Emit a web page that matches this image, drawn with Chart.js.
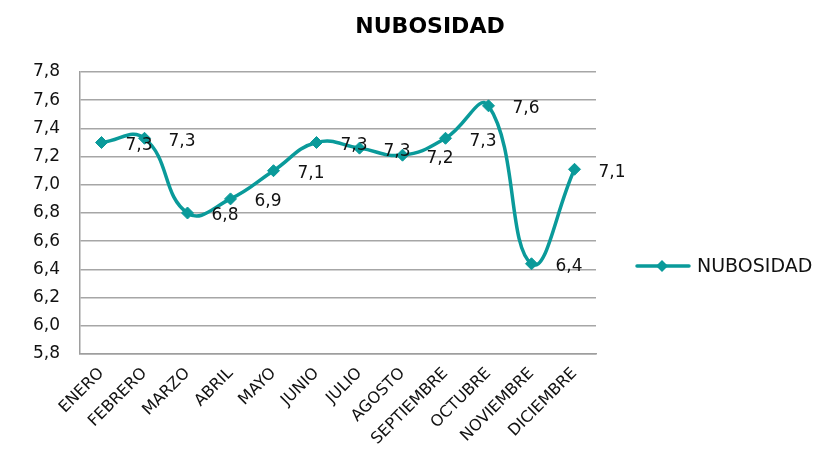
<!DOCTYPE html>
<html>
<head>
<meta charset="utf-8">
<script src="https://cdn.jsdelivr.net/npm/chart.js@4/dist/chart.umd.min.js"></script>
<style>
html,body{margin:0;padding:0;background:#fff;}
#wrap{width:839px;height:467px;position:relative;}
</style>
</head>
<body>
<div id="wrap"><canvas id="c" width="839" height="467"></canvas></div>
<script>
const categories = ["ENERO","FEBRERO","MARZO","ABRIL","MAYO","JUNIO","JULIO","AGOSTO","SEPTIEMBRE","OCTUBRE","NOVIEMBRE","DICIEMBRE"];
const nubosidad = [7.30, 7.33, 6.80, 6.90, 7.10, 7.30, 7.26, 7.21, 7.33, 7.56, 6.44, 7.11];
const seriesName = "NUBOSIDAD";
const chartTitle = "NUBOSIDAD";
const yMin = 5.8, yMax = 7.8, yStep = 0.2;

const COLOR = '#0A9A9A';
const FONT = "'DejaVu Sans', sans-serif";
const fmt = v => v.toFixed(1).replace('.', ',');

const titlePlugin = {
  id: 'customTitle',
  afterDraw(chart) {
    const ctx = chart.ctx;
    ctx.save();
    ctx.font = "bold 22px " + FONT;
    ctx.fillStyle = '#000';
    ctx.textAlign = 'center';
    ctx.textBaseline = 'alphabetic';
    ctx.fillText(chartTitle, 430, 33);
    ctx.restore();
  }
};

const labelPlugin = {
  id: 'valueLabels',
  afterDatasetsDraw(chart) {
    const ctx = chart.ctx;
    const meta = chart.getDatasetMeta(0);
    ctx.save();
    ctx.font = "17px " + FONT;
    ctx.fillStyle = '#111';
    ctx.textAlign = 'left';
    ctx.textBaseline = 'middle';
    meta.data.forEach((pt, i) => {
      ctx.fillText(fmt(chart.data.datasets[0].data[i]), pt.x + 24, pt.y + 3);
    });
    ctx.restore();
  }
};

const legendPlugin = {
  id: 'customLegend',
  afterDraw(chart) {
    const ctx = chart.ctx;
    const y = 266;
    ctx.save();
    ctx.strokeStyle = COLOR;
    ctx.lineWidth = 3.5;
    ctx.lineCap = 'round';
    ctx.beginPath();
    ctx.moveTo(637, y);
    ctx.lineTo(689, y);
    ctx.stroke();
    ctx.fillStyle = COLOR;
    ctx.beginPath();
    ctx.moveTo(662, y - 6);
    ctx.lineTo(668, y);
    ctx.lineTo(662, y + 6);
    ctx.lineTo(656, y);
    ctx.closePath();
    ctx.fill();
    ctx.font = "19px " + FONT;
    ctx.fillStyle = '#111';
    ctx.textAlign = 'left';
    ctx.textBaseline = 'middle';
    ctx.fillText(seriesName, 697, y + 1);
    ctx.restore();
  }
};

new Chart(document.getElementById('c'), {
  type: 'line',
  data: {
    labels: categories,
    datasets: [{
      label: seriesName,
      data: nubosidad,
      borderColor: COLOR,
      backgroundColor: COLOR,
      borderWidth: 3.5,
      tension: 0.45,
      pointStyle: 'rectRot',
      pointRadius: 6,
      pointHoverRadius: 6,
      pointBackgroundColor: COLOR,
      pointBorderColor: COLOR,
      pointBorderWidth: 1,
      fill: false
    }]
  },
  options: {
    responsive: false,
    animation: false,
    events: [],
    layout: { padding: { top: 72, right: 243, bottom: 0, left: 0 } },
    plugins: {
      legend: { display: false },
      title: { display: false },
      tooltip: { enabled: false }
    },
    scales: {
      x: {
        offset: true,
        grid: { display: false, drawTicks: false },
        border: { display: true, color: '#9e9e9e', width: 1.5 },
        ticks: {
          autoSkip: false,
          maxRotation: 45,
          minRotation: 45,
          padding: 10,
          color: '#111',
          font: { family: FONT, size: 16 }
        },
        afterFit(s) { s.height = 113; }
      },
      y: {
        min: yMin,
        max: yMax,
        grid: { color: '#a6a6a6', lineWidth: 1.5, drawTicks: false },
        border: { display: true, color: '#9e9e9e', width: 1.5 },
        ticks: {
          stepSize: yStep,
          padding: 20,
          color: '#111',
          font: { family: FONT, size: 17 },
          callback: v => fmt(v)
        },
        afterFit(s) { s.width = 80; }
      }
    }
  },
  plugins: [titlePlugin, labelPlugin, legendPlugin]
});
</script>
</body>
</html>
